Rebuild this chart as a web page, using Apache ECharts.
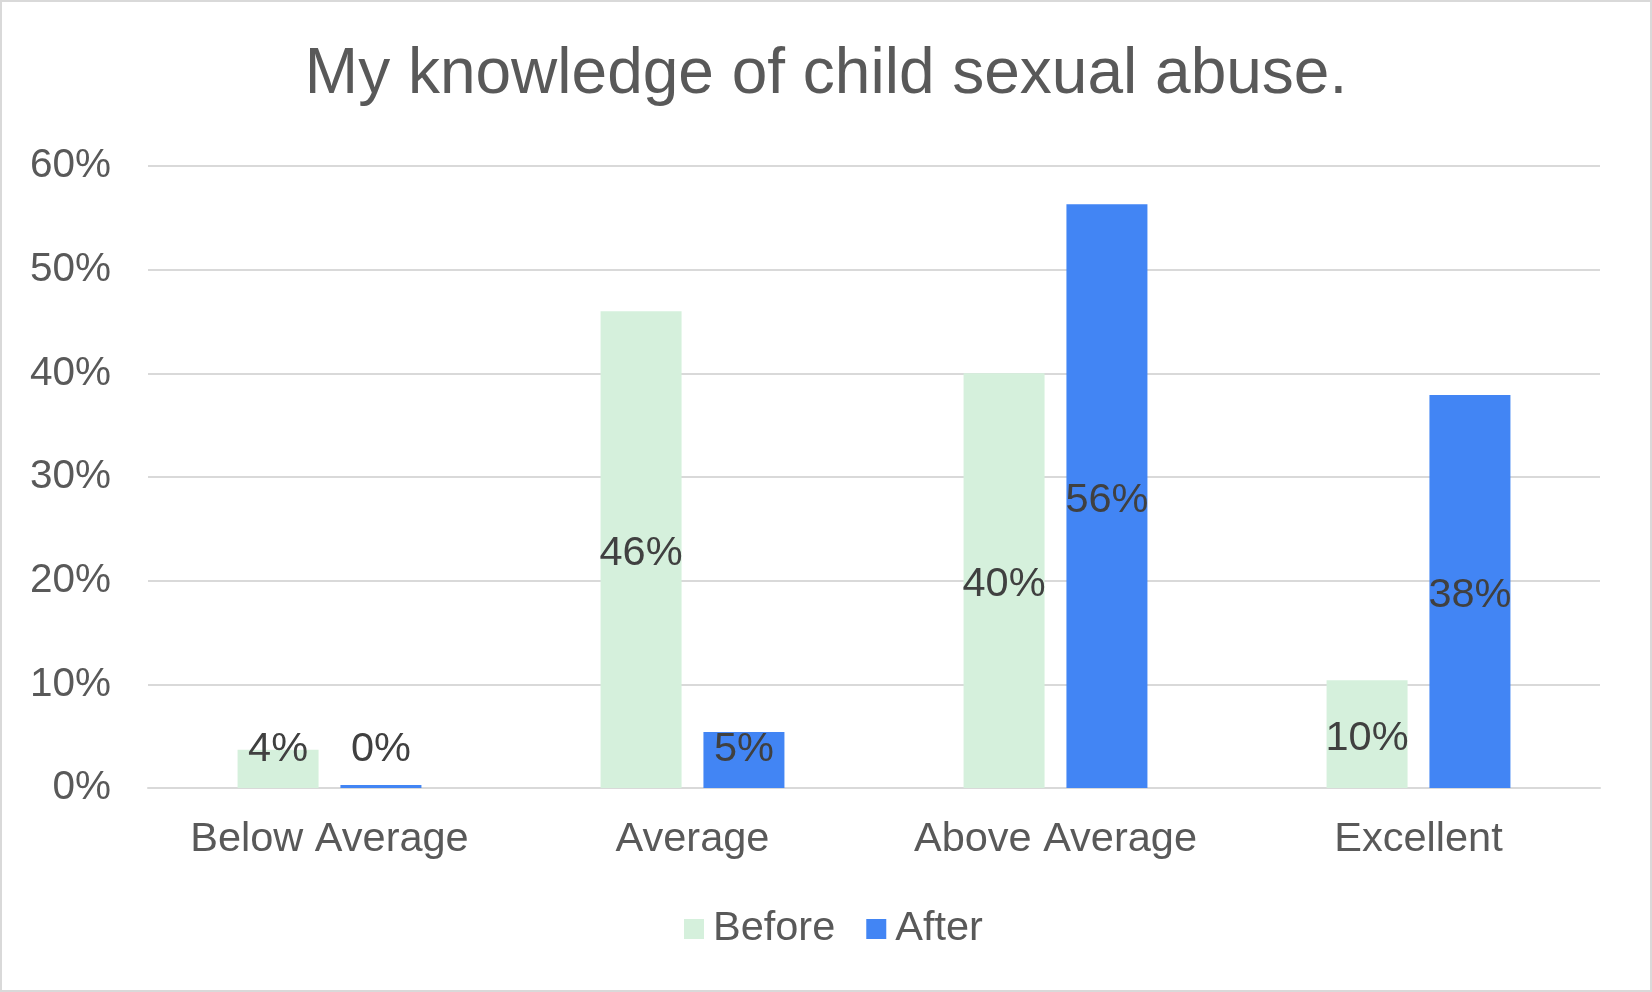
<!DOCTYPE html>
<html>
<head>
<meta charset="utf-8">
<script src="https://cdn.jsdelivr.net/npm/echarts@6/dist/echarts.min.js"></script>
<style>
html,body{margin:0;padding:0;background:#fff;}
#chart{width:1652px;height:992px;}
</style>
</head>
<body>
<div id="chart"></div>
<script>
const categories = ['Below Average', 'Average', 'Above Average', 'Excellent'];
const beforeValues = [3.7, 46.0, 40.0, 10.4];
const afterValues = [0.3, 5.4, 56.3, 37.9];
const seriesNames = ['Before', 'After'];
const yTicks = { min: 0, max: 60, interval: 10 };

const FONT = '"Liberation Sans", Arial, sans-serif';
const FS = 41.5;

function labelledData(values) {
  return values.map(v => {
    const item = { value: v };
    if (v < 8) {
      item.label = { position: 'insideBottom', distance: 21 };
    }
    return item;
  });
}

const chart = echarts.init(document.getElementById('chart'), null, { renderer: 'canvas' });
chart.setOption({
  animation: false,
  backgroundColor: '#ffffff',
  textStyle: { fontFamily: FONT },
  title: {
    text: 'My knowledge of child sexual abuse.',
    left: 'center',
    top: 43,
    padding: 0,
    textStyle: { fontFamily: FONT, fontSize: 64, fontWeight: 'normal', color: '#595959' }
  },
  graphic: [{
    type: 'rect',
    shape: { x: 1, y: 1, width: 1650, height: 990 },
    style: { fill: 'none', stroke: '#d9d9d9', lineWidth: 2 },
    silent: true
  }],
  legend: {
    data: seriesNames,
    left: 684,
    top: 908,
    padding: 0,
    itemWidth: 20,
    itemHeight: 20,
    itemGap: 31,
    icon: 'rect',
    textStyle: { fontFamily: FONT, fontSize: FS, color: '#595959', padding: [0, 0, 0, 4] }
  },
  grid: { left: 148, right: 52, top: 166, bottom: 204, containLabel: false },
  xAxis: {
    type: 'category',
    data: categories,
    axisTick: { show: false },
    axisLine: { show: true, lineStyle: { color: '#d9d9d9', width: 2 } },
    axisLabel: { interval: 0, fontFamily: FONT, fontSize: FS, color: '#595959', margin: 31 }
  },
  yAxis: {
    type: 'value',
    min: yTicks.min,
    max: yTicks.max,
    interval: yTicks.interval,
    axisLine: { show: false },
    axisTick: { show: false },
    splitLine: { lineStyle: { color: '#d9d9d9', width: 2 } },
    axisLabel: { fontFamily: FONT, fontSize: 40.5, color: '#595959', margin: 37, formatter: '{value}%' }
  },
  series: [
    {
      name: seriesNames[0],
      type: 'bar',
      data: labelledData(beforeValues),
      barWidth: 81,
      barGap: '27%',
      itemStyle: { color: '#d5f0dc' },
      label: {
        show: true, position: 'inside', offset: [0, 4], fontFamily: FONT, fontSize: FS, color: '#404040',
        formatter: p => Math.round(p.value) + '%'
      }
    },
    {
      name: seriesNames[1],
      type: 'bar',
      data: labelledData(afterValues),
      barWidth: 81,
      itemStyle: { color: '#4285f4' },
      label: {
        show: true, position: 'inside', offset: [0, 4], fontFamily: FONT, fontSize: FS, color: '#404040',
        formatter: p => Math.round(p.value) + '%'
      }
    }
  ]
});
</script>
</body>
</html>
